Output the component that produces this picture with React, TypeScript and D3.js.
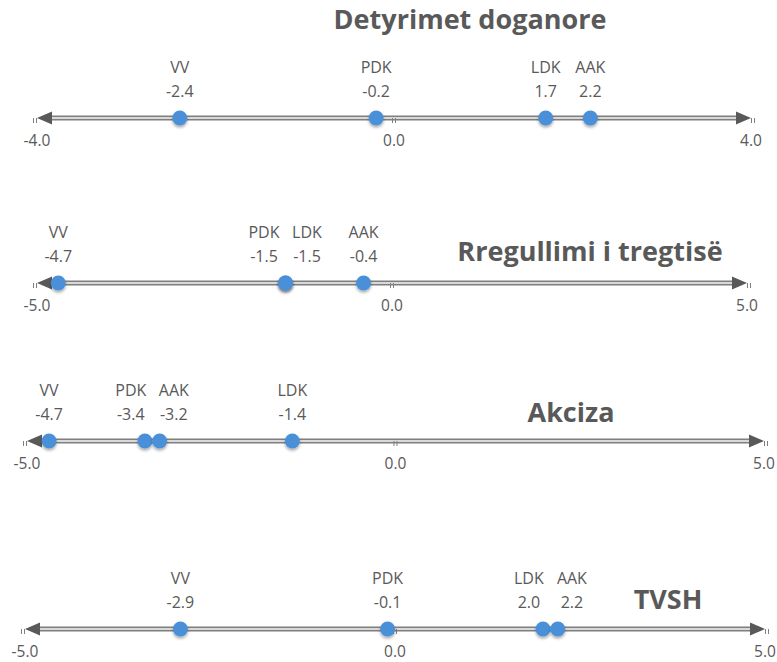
import React from 'react';
import * as d3 from 'd3';

// categories and values per panel
const categories = ['VV', 'PDK', 'LDK', 'AAK'];
const detyrimetValues = [-2.4, -0.2, 1.7, 2.2];
const rregullimiValues = [-4.7, -1.5, -1.5, -0.4];
const akcizaValues = [-4.7, -3.4, -1.4, -3.2];
const tvshValues = [-2.9, -0.1, 2.0, 2.2];
const panelTitles = ['Detyrimet doganore', 'Rregullimi i tregtisë', 'Akciza', 'TVSH'];
const axisLimits = [4, 5, 5, 5];

// layout only
const panels = [
  { values: detyrimetValues, y: 118, range: [37, 751], titleX: 470, titleY: 29 },
  { values: rregullimiValues, y: 283, range: [37, 747], titleX: 590, titleY: 261 },
  { values: akcizaValues, y: 441, range: [27, 764], titleX: 571, titleY: 422 },
  { values: tvshValues, y: 629, range: [25, 765], titleX: 668, titleY: 609 },
];

const FONT = "'Open Sans', 'Noto Sans', sans-serif";
const LINE = '#7f7f7f';
const DARK = '#595959';
const TEXT = '#595959';
const DOT = '#4a90d9';

// spread labels of points that sit too close together
function labelPositions(xs: number[], minGap = 43): number[] {
  const order = xs.map((x, i) => i).sort((a, b) => xs[a] - xs[b]);
  const out = xs.slice();
  let i = 0;
  while (i < order.length) {
    let j = i;
    while (j + 1 < order.length && xs[order[j + 1]] - xs[order[j]] < minGap) j++;
    const group = order.slice(i, j + 1);
    const mean = d3.mean(group, k => xs[k])!;
    const start = mean - ((group.length - 1) * minGap) / 2;
    group.forEach((k, n) => (out[k] = group.length > 1 ? start + n * minGap : xs[k]));
    i = j + 1;
  }
  return out;
}

const Panel: React.FC<{ idx: number }> = ({ idx }) => {
  const p = panels[idx];
  const lim = axisLimits[idx];
  const x = d3.scaleLinear().domain([-lim, lim]).range(p.range);
  const y = p.y;
  const x0 = x(-lim), x1 = x(lim);
  const xs = p.values.map(v => x(v));
  const lx = labelPositions(xs);
  const ticks = [-lim, 0, lim];
  const tickMark = (tx: number) => (
    <g key={'tm' + tx} stroke={LINE} strokeWidth={1}>
      <line x1={tx - 1.5} x2={tx - 1.5} y1={y} y2={y + 5} />
      <line x1={tx + 1.5} x2={tx + 1.5} y1={y} y2={y + 5} />
    </g>
  );
  return (
    <g>
      <text x={p.titleX} y={p.titleY} textAnchor="middle" fontFamily={FONT} fontWeight="bold"
        fontSize={27} fill={DARK}>{panelTitles[idx]}</text>
      {/* double axis line */}
      <rect x={x0 + 8} y={y - 2.5} width={x1 - x0 - 16} height={5} fill={LINE} />
      <rect x={x0 + 8} y={y - 0.7} width={x1 - x0 - 16} height={1.4} fill="#ffffff" />
      <path d={`M${x0},${y} L${x0 + 15},${y - 6.5} L${x0 + 15},${y + 6.5} Z`} fill={DARK} />
      <path d={`M${x1},${y} L${x1 - 15},${y - 6.5} L${x1 - 15},${y + 6.5} Z`} fill={DARK} />
      {ticks.map(t => tickMark(t === 0 ? x(t) : x(t) + (t < 0 ? -2 : 2)))}
      {ticks.map(t => (
        <text key={'t' + t} x={x(t)} y={y + 28} textAnchor="middle" fontFamily={FONT}
          fontSize={15.5} fill={TEXT}>{t.toFixed(1)}</text>
      ))}
      {p.values.map((v, i) => (
        <g key={categories[i]}>
          <circle cx={xs[i]} cy={y} r={7.5} fill={DOT} filter="url(#shadow)" />
          <text x={lx[i]} y={y - 45} textAnchor="middle" fontFamily={FONT} fontSize={16}
            fill={TEXT}>{categories[i]}</text>
          <text x={lx[i]} y={y - 21} textAnchor="middle" fontFamily={FONT} fontSize={16}
            fill={TEXT}>{v.toFixed(1)}</text>
        </g>
      ))}
    </g>
  );
};

const App: React.FC = () => (
  <svg width={777} height={662} style={{ position: 'absolute', left: 0, top: 0, background: '#fff' }}>
    <defs>
      <filter id="shadow" x="-50%" y="-50%" width="200%" height="220%">
        <feDropShadow dx={0} dy={2} stdDeviation={1.5} floodColor="#000" floodOpacity={0.35} />
      </filter>
    </defs>
    {panels.map((_, i) => <Panel key={i} idx={i} />)}
  </svg>
);

export default App;
